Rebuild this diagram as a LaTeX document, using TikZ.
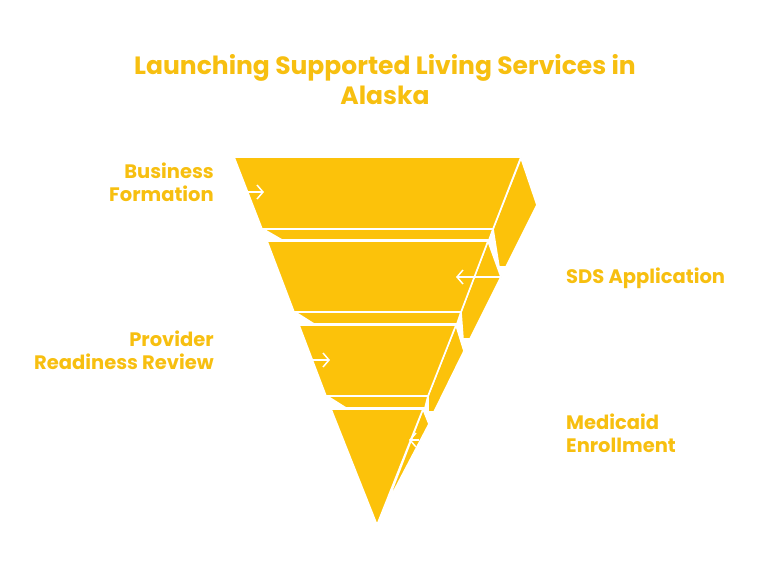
\documentclass[tikz,border=0pt]{standalone}
\usepackage{fontspec}
\usetikzlibrary{arrows.meta}
\setmainfont{Poppins}
\definecolor{gold}{HTML}{FCC20A}
\definecolor{txt}{HTML}{F7BF10}
\begin{document}
\begin{tikzpicture}[x=1pt,y=-1pt,
  face/.style={fill=gold,draw=white,line width=1.6pt,line join=miter},
  arr/.style={draw=white,line width=1.5pt,-{Straight Barb[length=6pt,width=14pt]}},
  lab/.style={text=txt,font=\bfseries\fontsize{19.5}{23}\selectfont,inner sep=0pt}]
\useasboundingbox (0,0) rectangle (768,576);
\node[text=txt,font=\bfseries\fontsize{25}{30}\selectfont,align=center] (title) at (385,80) {Launching Supported Living Services in\\Alaska};
% tier 1
\path[face] (521,158)--(537,205)--(506,267)--(499,267)--(493,229)--cycle;
\path[face] (263,229)--(493,229)--(489,240)--(282,240)--cycle;
\path[face] (234,157)--(521,157)--(493,229)--(262,229)--cycle;
% tier 2
\path[face] (488,241)--(501,277)--(470,339)--(463,339)--(461,312)--cycle;
\path[face] (295,312)--(461,312)--(457,324)--(314,324)--cycle;
\path[face] (267,241)--(488,241)--(461,312)--(294,312)--cycle;
% tier 3
\path[face] (456,325)--(464,351)--(434,412)--(428,412)--(428,396)--cycle;
\path[face] (327,396)--(428,396)--(425,408)--(346,408)--cycle;
\path[face] (299,325)--(456,325)--(428,396)--(326,396)--cycle;
% tier 4
\path[face] (423,409)--(429,424)--(386,506)--cycle;
\path[face] (331,409)--(423,409)--(377,525)--cycle;
% arrows
\coordinate (a1s) at (248,192); \coordinate (a1e) at (264,192);
\coordinate (a2s) at (501,277); \coordinate (a2e) at (456,277);
\coordinate (a3s) at (313,360); \coordinate (a3e) at (330,360);
\coordinate (a4s) at (419,440); \coordinate (a4e) at (409,440);
\draw[arr] (a1s)--(a1e);
\draw[arr] (a2s)--(a2e);
\draw[arr] (a3s)--(a3e);
\draw[arr] (a4s)--(a4e);
% labels
\node[lab,align=right,anchor=east] (l1) at (214,182) {Business\\Formation};
\node[lab,align=left,anchor=west] (l2) at (566,278) {SDS Application};
\node[lab,align=right,anchor=east] (l3) at (214,350) {Provider\\Readiness Review};
\node[lab,align=left,anchor=west] (l4) at (566,433) {Medicaid\\Enrollment};
\end{tikzpicture}
\end{document}
